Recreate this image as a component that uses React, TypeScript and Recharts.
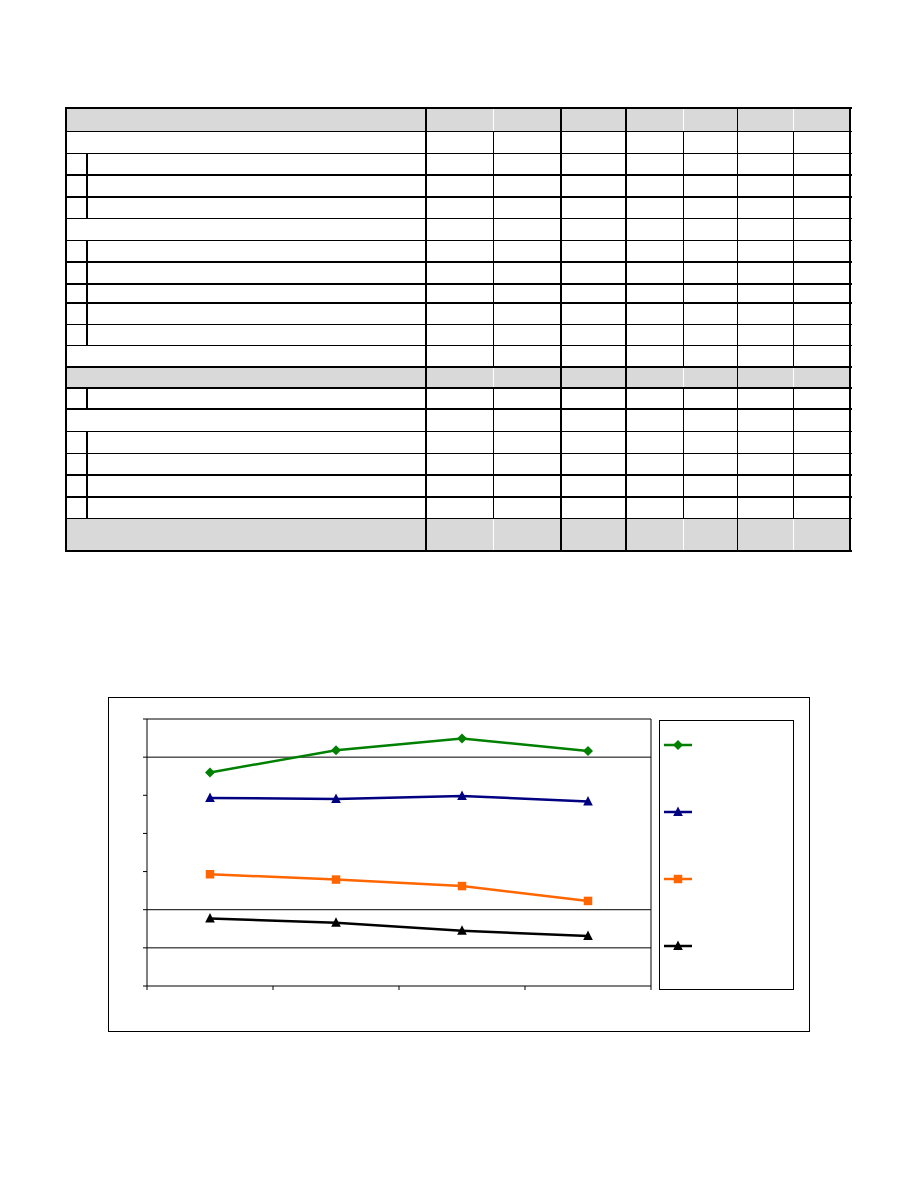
import React from "react";
import { LineChart, Line, XAxis, YAxis, ReferenceLine, Legend } from "recharts";

// chart values (no labels are printed on it)
const categories = ["P1", "P2", "P3", "P4"];
const greenValues = [5.6, 6.18, 6.49, 6.16];
const navyValues = [4.93, 4.9, 4.98, 4.84];
const orangeValues = [2.93, 2.79, 2.62, 2.23];
const blackValues = [1.77, 1.66, 1.45, 1.31];
const yTicks = [0, 1, 2, 3, 4, 5, 6, 7];
const gridValues = [1, 2, 6];
const slotTicks = [0, 1, 2, 3, 4];

type Shape = "diamond" | "triangle" | "square";

interface Series {
  key: string;
  color: string;
  shape: Shape;
  values: number[];
}

const series: Series[] = [
  { key: "green", color: "#008000", shape: "diamond", values: greenValues },
  { key: "navy", color: "#000080", shape: "triangle", values: navyValues },
  { key: "orange", color: "#FF6600", shape: "square", values: orangeValues },
  { key: "black", color: "#000000", shape: "triangle", values: blackValues },
];

// each category sits in the middle of its slot on the x axis (Excel style ticks between categories)
const data = categories.map((cat, i) => {
  const row: Record<string, string | number> = { cat, slot: i + 0.5 };
  series.forEach((s) => {
    row[s.key] = s.values[i];
  });
  return row;
});

// table layout (the table in the reference is empty)
const rowLines = [
  [108, 2], [131, 1], [153, 1], [175, 2], [197, 2], [218, 1], [240, 1], [262, 2],
  [284, 2], [303, 2], [324, 1], [345, 1], [367, 2], [388, 2], [409, 2], [431, 1],
  [453, 1], [475, 2], [497, 2], [518, 1], [551, 2],
];
// row index -> kind: g = gray full, f = full, s = with small left cell
const rowKinds = "gfsssfsssssfgsfssssg";
const colLines = [
  [66, 2], [426, 2], [493, 1], [561, 2], [626, 2], [683, 1], [737, 1], [793, 1], [850, 2],
];
const grayWhiteCols = [493, 683, 793];
const subColX = 86;

function Marker({ cx, cy, shape, color }: { cx: number; cy: number; shape: Shape; color: string }) {
  if (cx == null || cy == null) return null;
  if (shape === "diamond") {
    return <polygon points={`${cx},${cy - 5} ${cx + 5},${cy} ${cx},${cy + 5} ${cx - 5},${cy}`} fill={color} />;
  }
  if (shape === "square") {
    return <rect x={cx - 4.25} y={cy - 4.25} width={8.5} height={8.5} fill={color} />;
  }
  return <polygon points={`${cx},${cy - 5.5} ${cx + 4.8},${cy + 4} ${cx - 4.8},${cy + 4}`} fill={color} />;
}

function LegendBox() {
  return (
    <div style={{ width: 135, height: 270, border: "1px solid #000", boxSizing: "border-box", background: "#fff" }}>
      <svg width={133} height={268} style={{ display: "block" }}>
        {series.map((s, i) => {
          const y = 24 + i * 67;
          return (
            <g key={s.key}>
              <line x1={4} x2={32} y1={y} y2={y} stroke={s.color} strokeWidth={2.5} />
              <Marker cx={18} cy={y} shape={s.shape} color={s.color} />
            </g>
          );
        })}
      </svg>
    </div>
  );
}

function EmptyTable() {
  const parts: JSX.Element[] = [];
  for (let r = 0; r < rowKinds.length; r++) {
    const y0 = rowLines[r][0];
    const y1 = rowLines[r + 1][0];
    if (rowKinds[r] === "g") {
      parts.push(
        <div key={`bg${r}`} style={{ position: "absolute", left: 66, top: y0, width: 784, height: y1 - y0, background: "#D9D9D9" }} />
      );
    }
  }
  for (let r = 0; r < rowKinds.length; r++) {
    const y0 = rowLines[r][0];
    const y1 = rowLines[r + 1][0];
    colLines.forEach(([x, w]) => {
      const white = rowKinds[r] === "g" && grayWhiteCols.includes(x);
      parts.push(
        <div key={`v${r}-${x}`} style={{ position: "absolute", left: x - w / 2, top: y0, width: w, height: y1 - y0 + 1, background: white ? "#fff" : "#000" }} />
      );
    });
    if (rowKinds[r] === "s") {
      parts.push(
        <div key={`sub${r}`} style={{ position: "absolute", left: subColX, top: y0, width: 2, height: y1 - y0 + 1, background: "#000" }} />
      );
    }
  }
  rowLines.forEach(([y, w], i) => {
    parts.push(
      <div key={`h${i}`} style={{ position: "absolute", left: 65, top: y - w / 2, width: 787, height: w, background: "#000" }} />
    );
  });
  return <div style={{ position: "absolute", left: 0, top: 0 }}>{parts}</div>;
}

const blank = () => "";

export default function App() {
  return (
    <div style={{ position: "absolute", left: 0, top: 0, width: 918, height: 1188, background: "#fff", fontFamily: "Arial, Liberation Sans, sans-serif" }}>
      <EmptyTable />
      <div style={{ position: "absolute", left: 108, top: 697, width: 702, height: 335, border: "1px solid #000", boxSizing: "border-box" }} />
      <div style={{ position: "absolute", left: 108, top: 697 }}>
        <LineChart width={701} height={334} data={data} margin={{ top: 22, right: 158, bottom: 0, left: 0 }}>
          <XAxis
            dataKey="slot"
            type="number"
            domain={[0, 4]}
            ticks={slotTicks}
            height={45}
            tickFormatter={blank}
            tickSize={4}
            axisLine={{ stroke: "#000" }}
            tickLine={{ stroke: "#000" }}
          />
          <YAxis
            domain={[0, 7]}
            ticks={yTicks}
            width={39}
            tickFormatter={blank}
            tickSize={4}
            axisLine={{ stroke: "#000" }}
            tickLine={{ stroke: "#000" }}
          />
          {gridValues.map((v) => (
            <ReferenceLine key={v} y={v} stroke="#000" strokeWidth={1} />
          ))}
          <ReferenceLine y={7} stroke="#000" strokeWidth={1} />
          <ReferenceLine x={4} stroke="#000" strokeWidth={1} />
          <Legend
            layout="horizontal"
            align="center"
            verticalAlign="middle"
            content={() => <LegendBox />}
            wrapperStyle={{ left: 551, top: 23, width: 135, height: 270 }}
          />
          {series.map((s) => (
            <Line
              key={s.key}
              type="linear"
              dataKey={s.key}
              stroke={s.color}
              strokeWidth={2.5}
              isAnimationActive={false}
              dot={(p: any) => <Marker key={`${s.key}-${p.index}`} cx={p.cx} cy={p.cy} shape={s.shape} color={s.color} />}
              activeDot={false}
            />
          ))}
        </LineChart>
      </div>
    </div>
  );
}
